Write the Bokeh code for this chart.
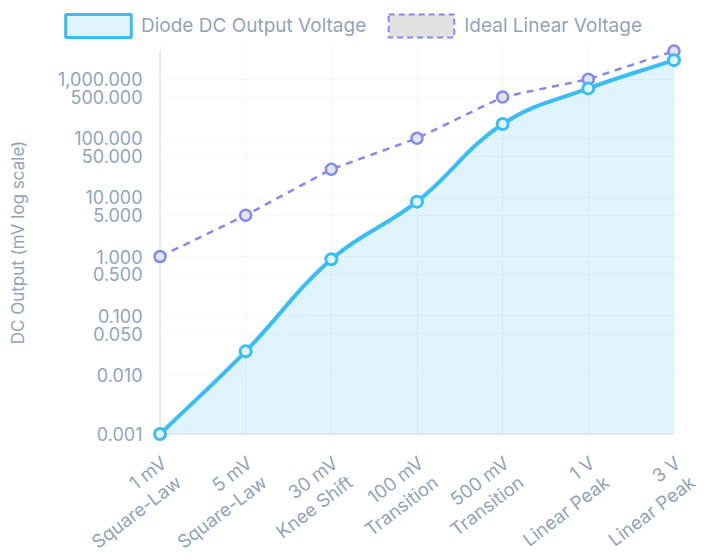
import math

from bokeh.plotting import figure
from bokeh.layouts import column
from bokeh.core.properties import value
from bokeh.models import (Range1d, FixedTicker, NumeralTickFormatter,
                          Legend, LegendItem)
from bokeh.embed import file_html
from bokeh.resources import INLINE

categories = ["1 mV\nSquare-Law", "5 mV\nSquare-Law", "30 mV\nKnee Shift",
              "100 mV\nTransition", "500 mV\nTransition", "1 V\nLinear Peak",
              "3 V\nLinear Peak"]
diode_mv = [0.001, 0.025, 0.9, 8.5, 175, 700, 2100]
ideal_mv = [1, 5, 30, 100, 500, 1000, 3000]
y_ticks = [0.001, 0.01, 0.05, 0.1, 0.5, 1, 5, 10, 50, 100, 500, 1000]

FONT = "Inter"
GREY = "#94a3b8"
SKY = "#38bdf8"
INDIGO = "#8189f3"
AXIS = "#e2e4e8"

# screen size of one category step / one decade (for spline shape + padding)
PX_STEP = 85.5
PX_DEC = 59.1
PAD_PX = 8.5
LEFT, RIGHT, W = 151, 18, 700


def spline(xs, ys, tension=0.4):
    # chart.js style bezier control points, worked out in screen space
    pts = [(x * PX_STEP, math.log10(y) * PX_DEC) for x, y in zip(xs, ys)]
    n = len(pts)
    cps = []
    for i in range(n):
        prev = pts[i - 1] if i > 0 else pts[i]
        cur = pts[i]
        nxt = pts[i + 1] if i < n - 1 else pts[i]
        d01 = math.hypot(cur[0] - prev[0], cur[1] - prev[1])
        d12 = math.hypot(nxt[0] - cur[0], nxt[1] - cur[1])
        tot = d01 + d12
        s01 = d01 / tot if tot else 0
        s12 = d12 / tot if tot else 0
        fa, fb = tension * s01, tension * s12
        dx, dy = nxt[0] - prev[0], nxt[1] - prev[1]
        cps.append(((cur[0] - fa * dx, cur[1] - fa * dy),
                    (cur[0] + fb * dx, cur[1] + fb * dy)))
    return [(pts[i], cps[i][1], cps[i + 1][0], pts[i + 1]) for i in range(n - 1)]


def to_data(pt):
    return pt[0] / PX_STEP, 10 ** (pt[1] / PX_DEC)


xs = list(range(len(categories)))
x_lo, x_hi = xs[0], xs[-1]
y_lo, y_hi = y_ticks[0], max(ideal_mv)
xpad = PAD_PX / PX_STEP
ypad = 10 ** (PAD_PX / PX_DEC)

p = figure(width=W, height=408, y_axis_type="log",
           x_range=Range1d(x_lo - xpad, x_hi + xpad),
           y_range=Range1d(y_lo / ypad, y_hi * ypad),
           output_backend="svg", toolbar_location=None,
           min_border_left=LEFT, min_border_right=RIGHT,
           min_border_top=2, min_border_bottom=6)
p.outline_line_color = None
p.frame_align = False

segs = spline(xs, diode_mv)

# area under the smooth diode curve
fill_x, fill_y = [], []
for a, c1, c2, b in segs:
    for k in range(25):
        t = k / 24
        u = 1 - t
        px = u**3 * a[0] + 3 * u * u * t * c1[0] + 3 * u * t * t * c2[0] + t**3 * b[0]
        py = u**3 * a[1] + 3 * u * u * t * c1[1] + 3 * u * t * t * c2[1] + t**3 * b[1]
        dx, dy = to_data((px, py))
        fill_x.append(dx)
        fill_y.append(dy)
fill_x = [x_lo] + fill_x + [x_hi]
fill_y = [y_lo] + fill_y + [y_lo]
p.patch(fill_x, fill_y, fill_color=SKY, fill_alpha=0.16, line_color=None)

# axis lines at the data bounds
p.segment(x0=[x_lo, x_lo], y0=[y_lo, y_lo], x1=[x_lo, x_hi], y1=[y_hi, y_lo],
          line_color=AXIS, line_width=1.5)

# ideal linear (dashed, straight)
p.line(xs, ideal_mv, line_color=INDIGO, line_width=2.5, line_dash="7 6")
p.scatter(xs, ideal_mv, size=11, fill_color="#e4e4ee", line_color=INDIGO,
          line_width=2.5)

# diode curve
bx0, by0, bx1, by1, cx0, cy0, cx1, cy1 = [], [], [], [], [], [], [], []
for a, c1, c2, b in segs:
    A, C1, C2, B = to_data(a), to_data(c1), to_data(c2), to_data(b)
    bx0.append(A[0]); by0.append(A[1])
    bx1.append(B[0]); by1.append(B[1])
    cx0.append(C1[0]); cy0.append(C1[1])
    cx1.append(C2[0]); cy1.append(C2[1])
p.bezier(x0=bx0, y0=by0, x1=bx1, y1=by1, cx0=cx0, cy0=cy0, cx1=cx1, cy1=cy1,
         line_color=SKY, line_width=4)
p.scatter(xs, diode_mv, size=11, fill_color="#e0f4fd", line_color=SKY,
          line_width=3)

# axes
p.xaxis.visible = False
p.yaxis.ticker = FixedTicker(ticks=y_ticks)
p.yaxis.formatter = NumeralTickFormatter(format="0,0.000")
p.yaxis.axis_label = "DC Output (mV log scale)"
p.yaxis.axis_line_color = None
p.yaxis.major_tick_line_color = None
p.yaxis.minor_tick_line_color = None
p.yaxis.major_tick_out = 0
p.yaxis.major_label_text_font = FONT
p.yaxis.major_label_text_color = GREY
p.yaxis.major_label_text_font_size = "18px"
p.yaxis.major_label_standoff = 9
p.yaxis.axis_label_text_font = FONT
p.yaxis.axis_label_text_font_size = "17px"
p.yaxis.axis_label_text_font_style = "normal"
p.yaxis.axis_label_text_color = GREY
p.yaxis.axis_label_standoff = 27

p.xgrid.grid_line_color = "#000000"
p.xgrid.grid_line_alpha = 0.03
p.ygrid.grid_line_color = "#000000"
p.ygrid.grid_line_alpha = 0.03

# category labels strip below (same x scale, spanning the full width)
LAB_H = 110
lab = figure(width=W, height=LAB_H,
             x_range=Range1d(x_lo - xpad - LEFT / PX_STEP,
                             x_hi + xpad + RIGHT / PX_STEP),
             y_range=Range1d(-LAB_H, 0),
             output_backend="svg", toolbar_location=None,
             x_axis_location=None, y_axis_location=None, min_border=0)
lab.outline_line_color = None
lab.frame_align = False
lab.xgrid.visible = False
lab.ygrid.visible = False
lab.text(x=xs, y=[-3] * len(xs), text=categories, angle=0.65,
         x_offset=-3, text_align="right", text_baseline="top",
         text_font=value(FONT), text_font_size="18.5px", text_color=GREY,
         text_line_height=1.1)

# legend strip on top; swatch glyphs sit outside its visible range
lg = figure(width=W, height=40, x_range=Range1d(0, 1), y_range=Range1d(0, 1),
            output_backend="svg", toolbar_location=None,
            x_axis_location=None, y_axis_location=None,
            min_border=0)
lg.outline_line_color = None
lg.frame_align = False
lg.xgrid.visible = False
lg.ygrid.visible = False
r_diode = lg.quad(left=[-3], right=[-2], top=[-2], bottom=[-3],
                  fill_color="#e0f4fd", line_color=SKY, line_width=3)
r_ideal = lg.quad(left=[-3], right=[-2], top=[-2], bottom=[-3],
                  fill_color="#e2e2e2", line_color=INDIGO, line_width=2,
                  line_dash="6 4")
legend = Legend(items=[LegendItem(label="Diode DC Output Voltage", renderers=[r_diode]),
                       LegendItem(label="Ideal Linear Voltage", renderers=[r_ideal])],
                orientation="horizontal", location=(57, 0),
                glyph_width=82, glyph_height=29, label_standoff=2, spacing=14,
                padding=0, margin=0, border_line_color=None,
                background_fill_alpha=0,
                label_text_font=FONT, label_text_font_size="19px",
                label_text_color=GREY)
lg.add_layout(legend, "center")

open("out.html", "w").write(file_html(column(lg, p, lab), INLINE))
